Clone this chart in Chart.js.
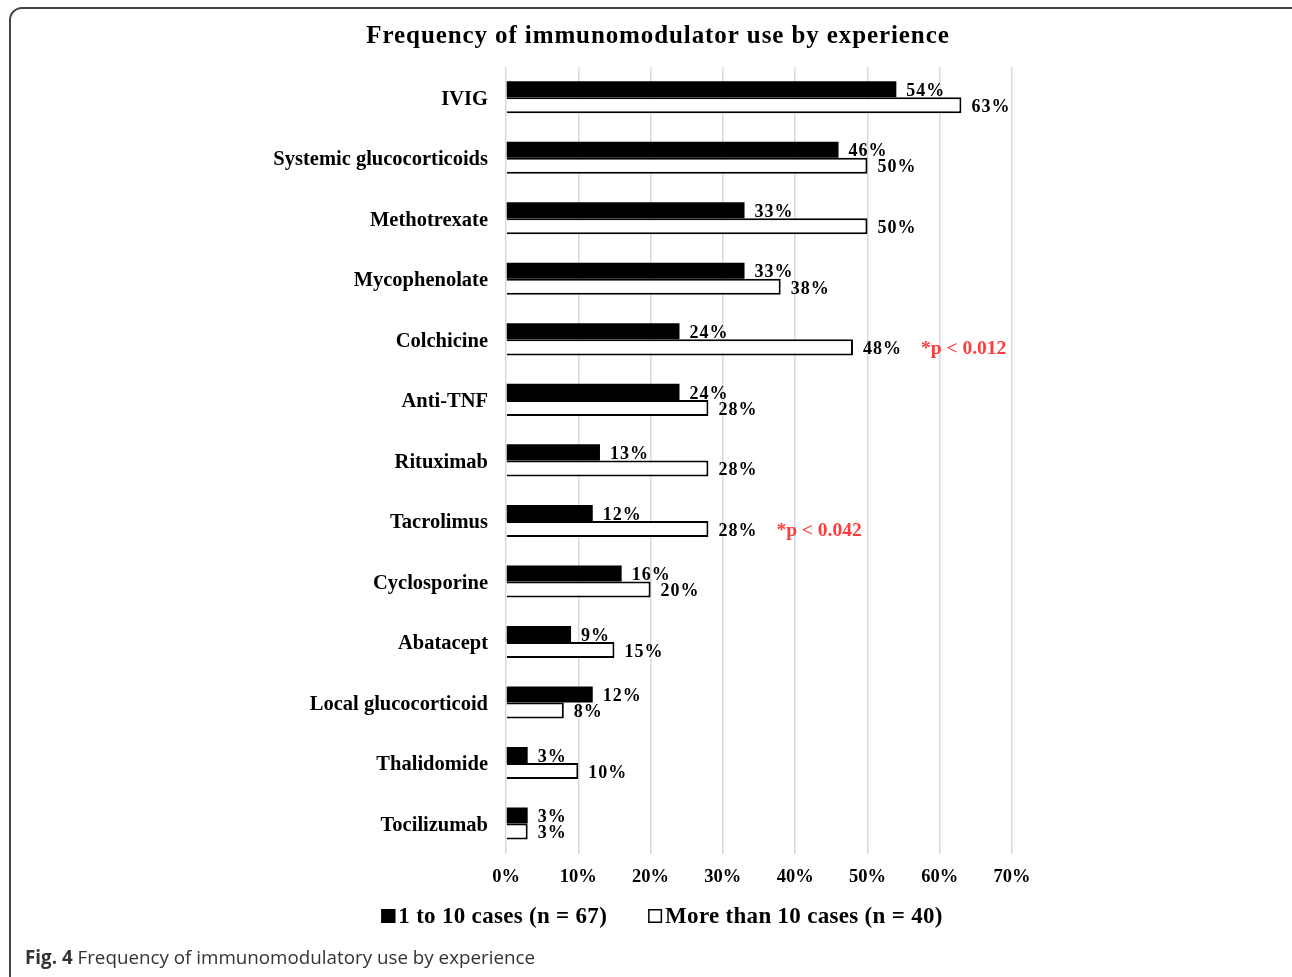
<!DOCTYPE html>
<html>
<head>
<meta charset="utf-8">
<script src="https://cdn.jsdelivr.net/npm/chart.js@4"></script>
<style>
  body { margin: 0; background: #fff; }
  #wrap { position: relative; width: 1292px; height: 977px; overflow: hidden; }
  #frame { position: absolute; left: 9px; top: 7px; width: 1300px; height: 990px;
           border: 2px solid #444; border-radius: 13px; box-sizing: border-box; }
  #chart { position: absolute; left: 0; top: 0; }
  #caption { position: absolute; left: 25px; top: 944px; font-family: "Open Sans", sans-serif;
             font-size: 18.8px; color: #333; white-space: nowrap; }
</style>
</head>
<body>
<div id="wrap">
  <div id="frame"></div>
  <canvas id="chart" width="1292" height="977"></canvas>
  <div id="caption"><b>Fig. 4</b> Frequency of immunomodulatory use by experience</div>
</div>
<script>
// data
var categories = ['IVIG', 'Systemic glucocorticoids', 'Methotrexate', 'Mycophenolate', 'Colchicine',
    'Anti-TNF', 'Rituximab', 'Tacrolimus', 'Cyclosporine', 'Abatacept', 'Local glucocorticoid',
    'Thalidomide', 'Tocilizumab'];
var fewCases = [54, 46, 33, 33, 24, 24, 13, 12, 16, 9, 12, 3, 3];
var manyCases = [63, 50, 50, 38, 48, 28, 28, 28, 20, 15, 8, 10, 3];
var seriesLabels = ['1 to 10 cases (n = 67)', 'More than 10 cases (n = 40)'];
var xTicks = [0, 10, 20, 30, 40, 50, 60, 70];
var pNotes = { 'Colchicine': '*p < 0.012', 'Tacrolimus': '*p < 0.042' };
var chartTitle = 'Frequency of immunomodulator use by experience';

var SERIF = '"Liberation Serif", "Times New Roman", serif';

// title, value labels, p-values and legend
var extras = {
    id: 'extras',
    afterDatasetsDraw: function (chart) {
        var ctx = chart.ctx;
        ctx.save();
        ctx.fillStyle = '#000';
        ctx.textBaseline = 'middle';
        ctx.textAlign = 'left';
        ctx.font = 'bold 18px ' + SERIF;
        ctx.letterSpacing = '1px';
        var whiteEnds = [];
        chart.data.datasets.forEach(function (ds, di) {
            var meta = chart.getDatasetMeta(di);
            meta.data.forEach(function (bar, i) {
                var txt = ds.data[i] + '%';
                var x = bar.x + 10;
                ctx.fillText(txt, x, bar.y + 2);
                if (di === 1) whiteEnds[i] = { x: x + ctx.measureText(txt).width, y: bar.y + 2 };
            });
        });
        ctx.fillStyle = '#ff3b3b';
        ctx.font = 'bold 19.5px ' + SERIF;
        ctx.letterSpacing = '0px';
        categories.forEach(function (c, i) {
            if (pNotes[c]) ctx.fillText(pNotes[c], whiteEnds[i].x + 19, whiteEnds[i].y);
        });

        // title
        ctx.fillStyle = '#000';
        ctx.textAlign = 'center';
        ctx.font = 'bold 25px ' + SERIF;
        ctx.letterSpacing = '0.9px';
        ctx.fillText(chartTitle, 658, 37);

        // legend
        ctx.textAlign = 'left';
        ctx.font = 'bold 23px ' + SERIF;
        ctx.letterSpacing = '0.3px';
        var box = 14, gap = 3, spacing = 41;
        var w0 = ctx.measureText(seriesLabels[0]).width;
        var w1 = ctx.measureText(seriesLabels[1]).width;
        var total = box + gap + w0 + spacing + box + gap + w1;
        var x = 662 - total / 2, y = 917;
        chart.data.datasets.forEach(function (ds, di) {
            ctx.fillStyle = ds.backgroundColor;
            ctx.fillRect(x, y - 8, box, box);
            ctx.strokeStyle = '#000';
            ctx.lineWidth = 1.5;
            ctx.strokeRect(x + 0.75, y - 7.25, box - 1.5, box - 1.5);
            ctx.fillStyle = '#000';
            ctx.fillText(ds.label, x + box + gap, y);
            x += box + gap + (di === 0 ? w0 : w1) + spacing;
        });
        ctx.restore();
    }
};

new Chart(document.getElementById('chart'), {
    type: 'bar',
    data: {
        labels: categories,
        datasets: [{
            label: seriesLabels[0],
            data: fewCases,
            backgroundColor: '#000',
            borderColor: '#000',
            borderWidth: 0
        }, {
            label: seriesLabels[1],
            data: manyCases,
            backgroundColor: '#fff',
            borderColor: '#000',
            borderWidth: 2
        }]
    },
    options: {
        indexAxis: 'y',
        responsive: false,
        animation: false,
        devicePixelRatio: 1,
        layout: { padding: { top: 67, right: 280, bottom: 77, left: 0 } },
        datasets: { bar: { categoryPercentage: 0.53, barPercentage: 1.0 } },
        scales: {
            x: {
                min: 0,
                max: 70,
                afterBuildTicks: function (scale) {
                    scale.ticks = xTicks.map(function (v) { return { value: v }; });
                },
                grid: { color: '#d9d9d9', lineWidth: 1.5, drawTicks: false },
                border: { display: false },
                ticks: {
                    padding: 12,
                    color: '#000',
                    font: { family: SERIF, size: 18.5, weight: 'bold' },
                    callback: function (v) { return v + '%'; }
                }
            },
            y: {
                afterFit: function (scale) { scale.width = 506; },
                grid: { display: false, drawTicks: false },
                border: { display: false },
                ticks: {
                    padding: 18,
                    labelOffset: 2,
                    color: '#000',
                    font: { family: SERIF, size: 20.5, weight: 'bold' }
                }
            }
        },
        plugins: {
            legend: { display: false },
            title: { display: false },
            tooltip: { enabled: false }
        }
    },
    plugins: [extras]
});
</script>
</body>
</html>
